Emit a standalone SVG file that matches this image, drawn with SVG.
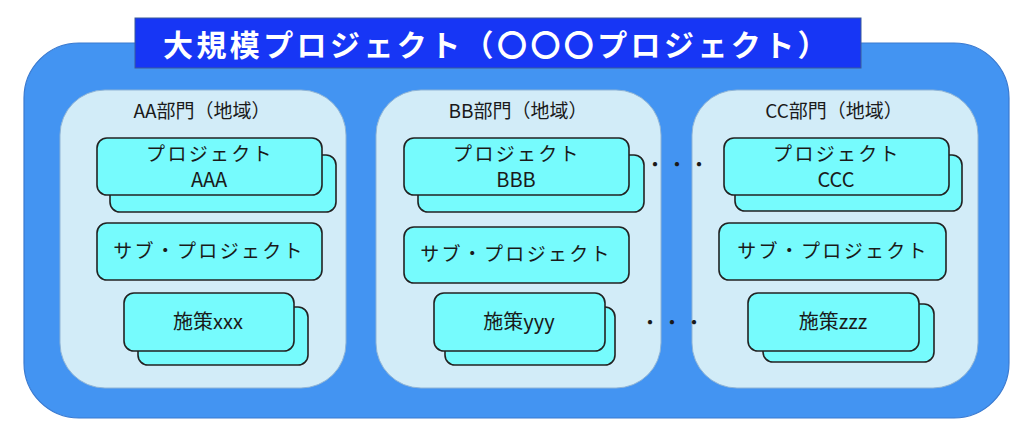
<svg xmlns="http://www.w3.org/2000/svg" width="1024" height="433" viewBox="0 0 1024 433">
<style>
text{font-family:"Noto Sans CJK JP","Noto Sans",sans-serif;fill:#1a1a1a;text-anchor:middle}
.title{fill:#ffffff;font-weight:bold;font-size:30px;text-anchor:start;letter-spacing:3.4px}
.panel{fill:#d2ecf8;stroke:#8fb4d6;stroke-width:1}
.box{fill:#76fbfd;stroke:#222;stroke-width:1.6}
.plabel{font-size:19px}
.blabel{font-size:19px;letter-spacing:2.3px}
.blabel2{font-size:20px}
.dots{font-size:20px;letter-spacing:2px}
</style>
<rect width="1024" height="433" fill="#ffffff"/>
<g id="outer">
<rect x="24" y="43" width="985" height="375" rx="55" ry="55" fill="#4394f2" stroke="#3a7ad0" stroke-width="1.2"/>
</g>
<g id="title">
<rect x="135" y="18" width="726" height="50" fill="#1736f5" stroke="#3a5a9a" stroke-width="1"/>
<text class="title" x="163" y="56">大規模プロジェクト（〇〇〇プロジェクト）</text>
</g>
<g id="panelA">
<rect class="panel" x="60" y="90" width="286" height="298" rx="45" ry="45"/>
<text class="plabel" x="202" y="118">AA部門（地域）</text>
</g>
<g id="panelB">
<rect class="panel" x="376" y="90" width="285" height="298" rx="45" ry="45"/>
<text class="plabel" x="518" y="118">BB部門（地域）</text>
</g>
<g id="panelC">
<rect class="panel" x="692" y="90" width="286" height="298" rx="45" ry="45"/>
<text class="plabel" x="834" y="118">CC部門（地域）</text>
</g>
<g id="projectA">
<rect class="box" x="110" y="155" width="226" height="57" rx="10"/>
<rect class="box" x="97" y="138" width="225" height="57" rx="10"/>
<text class="blabel" x="210" y="161">プロジェクト</text>
<text class="blabel2" x="209" y="187">AAA</text>
</g>
<g id="subA">
<rect class="box" x="97" y="223" width="225" height="57" rx="10"/>
<text class="blabel" x="209" y="258">サブ・プロジェクト</text>
</g>
<g id="measureA">
<rect class="box" x="138" y="307" width="170" height="58" rx="10"/>
<rect class="box" x="124" y="293" width="170" height="58" rx="10"/>
<text class="blabel2" x="208" y="329">施策xxx</text>
</g>
<g id="projectB">
<rect class="box" x="418" y="155" width="226" height="57" rx="10"/>
<rect class="box" x="404" y="138" width="225" height="57" rx="10"/>
<text class="blabel" x="517" y="161">プロジェクト</text>
<text class="blabel2" x="516" y="187">BBB</text>
</g>
<g id="subB">
<rect class="box" x="404" y="227" width="225" height="56" rx="10"/>
<text class="blabel" x="516" y="261">サブ・プロジェクト</text>
</g>
<g id="measureB">
<rect class="box" x="445" y="307" width="170" height="58" rx="10"/>
<rect class="box" x="434" y="293" width="171" height="58" rx="10"/>
<text class="blabel2" x="519" y="329">施策yyy</text>
</g>
<g id="projectC">
<rect class="box" x="735" y="155" width="227" height="56" rx="10"/>
<rect class="box" x="724" y="138" width="225" height="57" rx="10"/>
<text class="blabel" x="837" y="161">プロジェクト</text>
<text class="blabel2" x="836" y="187">CCC</text>
</g>
<g id="subC">
<rect class="box" x="719" y="223" width="227" height="57" rx="10"/>
<text class="blabel" x="833" y="258">サブ・プロジェクト</text>
</g>
<g id="measureC">
<rect class="box" x="763" y="304" width="171" height="58" rx="10"/>
<rect class="box" x="748" y="293" width="171" height="58" rx="10"/>
<text class="blabel2" x="833" y="329">施策zzz</text>
</g>
<g id="connectors">
<text class="dots" x="678" y="172">・・・</text>
<text class="dots" x="673" y="330">・・・</text>
</g>
</svg>
